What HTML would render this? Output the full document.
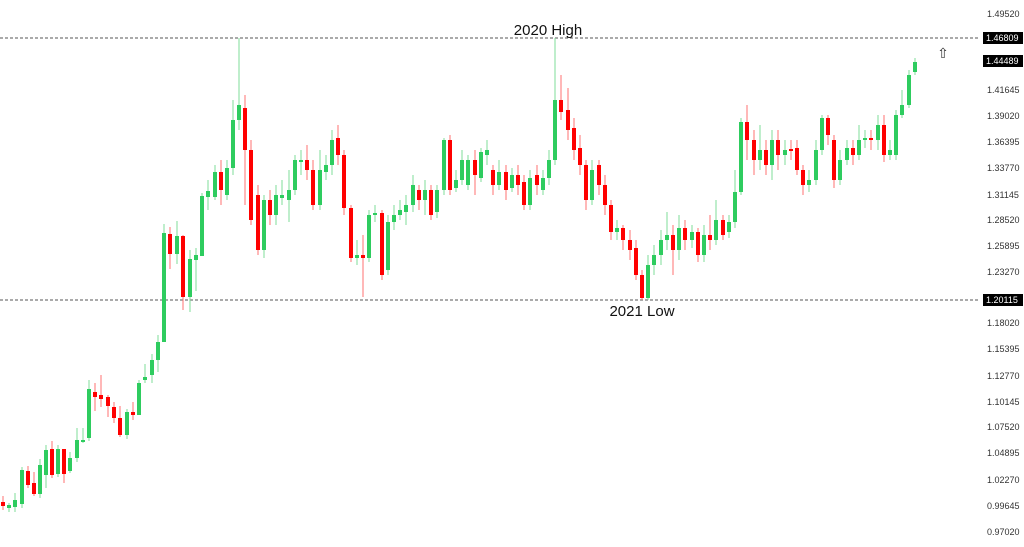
<!DOCTYPE html>
<html><head><meta charset="utf-8"><style>
html,body{margin:0;padding:0;background:#fff;width:1024px;height:547px;overflow:hidden}
svg{display:block}
.t{font-family:"Liberation Sans",sans-serif;font-size:9px;fill:#333}
.w{font-family:"Liberation Sans",sans-serif;font-size:9px;fill:#fff}
</style></head><body>
<svg width="1024" height="547" xmlns="http://www.w3.org/2000/svg">
<line x1="0" y1="38" x2="978" y2="38" stroke="#555" stroke-dasharray="3,2" stroke-width="1"/>
<line x1="0" y1="300" x2="978" y2="300" stroke="#555" stroke-dasharray="3,2" stroke-width="1"/>

<path fill="none" stroke="#7fdc9a" stroke-width="1" d="M9 503V512M15 493V512M22 467V508M40 459V498M46 445V488M58 445V477M70 452V473M77 428V462M83 428V443M89 380V441M127 409V439M139 380V415M145 364V383M152 354V383M158 335V372M164 224V342M177 221V264M190 250V312M196 248V291M202 193V256M208 180V210M215 165V200M227 160V200M233 100V175M239 38V130M264 195V258M276 185V225M282 180V205M289 170V222M295 155V195M301 150V175M320 150V210M326 155V180M332 130V175M357 240V265M369 210V262M375 205V222M388 215V275M394 205V230M400 200V220M406 195V225M413 175V212M425 180V215M437 185V218M444 138V195M456 170V192M462 150V185M468 155V190M481 148V182M487 140V165M499 160V190M512 168V192M530 170V210M543 170V195M549 150V185M555 38V165M592 160V205M617 220V240M648 255V300M654 245V275M661 230V265M667 212V250M679 215V260M692 225V248M704 225V262M716 200V245M729 215V238M735 170V228M741 118V195M760 125V170M772 130V180M785 140V165M809 170V192M816 140V185M822 115V155M840 150V185M847 140V165M859 125V160M865 130V148M878 115V150M890 140V160M896 110V160M902 90V118M909 70V108M915 58V75"/>
<path fill="none" stroke="#2ecc5f" stroke-width="4" d="M9 505V508M15 500V507M22 470V504M40 465V494M46 450V475M58 449V474M70 458V471M77 440V458M83 440V442M89 389V438M127 412V435M139 383V415M145 377V380M152 360V375M158 342V360M164 233V342M177 236V254M190 259V297M196 255V260M202 196V256M208 191V197M215 172V197M227 168V195M233 120V168M239 105V120M264 200V250M276 195V215M282 195V198M289 190V200M295 160V190M301 160V162M320 170V205M326 165V172M332 140V165M357 255V258M369 215V258M375 213V215M388 222V270M394 215V222M400 210V215M406 205V212M413 185V205M425 190V200M437 190V212M444 140V190M456 180V188M462 160V180M468 160V185M481 152V178M487 150V155M499 172V185M512 175V188M530 178V205M543 178V190M549 160V178M555 100V160M592 170V200M617 228V232M648 265V298M654 255V265M661 240V255M667 235V240M679 228V250M692 232V240M704 235V255M716 220V240M729 222V232M735 192V222M741 122V192M760 150V160M772 140V165M785 150V155M809 180V185M816 150V180M822 118V150M840 160V180M847 148V160M859 140V155M865 138V140M878 125V140M890 150V155M896 115V155M902 105V115M909 75V105M915 62V72"/>

<path fill="none" stroke="#ff7070" stroke-width="1" d="M3 496V510M28 466V488M34 472V496M52 441V478M64 449V483M95 383V411M101 375V407M108 395V417M114 402V423M120 406V437M133 402V420M170 227V269M183 235V310M221 160V205M245 95V205M251 140V225M258 185V255M270 190V225M307 145V180M313 160V210M338 125V165M344 150V215M351 205V262M363 235V297M382 210V280M419 185V210M431 185V220M450 135V195M475 150V195M493 165V195M506 165V200M518 165V195M524 175V210M537 165V195M561 75V120M568 88V140M574 118V160M580 135V175M586 160V210M599 160V195M605 175V215M611 200V240M623 225V250M630 230V260M636 240V280M642 270V300M673 225V275M685 220V250M698 228V262M710 215V250M723 215V240M747 105V160M754 130V175M766 140V175M778 130V170M791 140V160M797 140V175M803 165V195M828 115V145M834 135V188M853 140V165M871 130V150M884 115V162"/>
<path fill="none" stroke="#ff0000" stroke-width="4" d="M3 502V506M28 471V485M34 483V494M52 449V475M64 449V474M95 392V397M101 395V399M108 397V406M114 407V418M120 418V435M133 412V415M170 234V254M183 236V297M221 172V190M245 108V150M251 150V220M258 195V250M270 200V215M307 160V170M313 170V205M338 138V155M344 155V208M351 208V258M363 255V258M382 213V275M419 190V200M431 190V215M450 140V190M475 160V175M493 170V185M506 172V190M518 175V185M524 182V205M537 175V185M561 100V112M568 110V130M574 128V150M580 148V165M586 165V200M599 165V185M605 185V205M611 205V232M623 228V240M630 240V250M636 248V275M642 275V298M673 235V250M685 228V240M698 232V255M710 235V240M723 220V235M747 122V140M754 140V160M766 150V165M778 140V155M791 149V151M797 148V170M803 170V185M828 118V135M834 140V180M853 148V155M871 138V140M884 125V155"/>

<text x="548" y="35" text-anchor="middle" font-family="Liberation Sans,sans-serif" font-size="15" fill="#111">2020 High</text>
<text x="642" y="316" text-anchor="middle" font-family="Liberation Sans,sans-serif" font-size="15" fill="#111">2021 Low</text>
<text x="943" y="58" text-anchor="middle" font-family="DejaVu Sans,sans-serif" font-size="14" fill="#333">⇧</text>

<text class="t" x="987" y="17">1.49520</text>
<text class="t" x="987" y="93">1.41645</text>
<text class="t" x="987" y="119">1.39020</text>
<text class="t" x="987" y="145">1.36395</text>
<text class="t" x="987" y="171">1.33770</text>
<text class="t" x="987" y="198">1.31145</text>
<text class="t" x="987" y="223">1.28520</text>
<text class="t" x="987" y="249">1.25895</text>
<text class="t" x="987" y="275">1.23270</text>
<text class="t" x="987" y="326">1.18020</text>
<text class="t" x="987" y="352">1.15395</text>
<text class="t" x="987" y="379">1.12770</text>
<text class="t" x="987" y="405">1.10145</text>
<text class="t" x="987" y="430">1.07520</text>
<text class="t" x="987" y="456">1.04895</text>
<text class="t" x="987" y="483">1.02270</text>
<text class="t" x="987" y="509">0.99645</text>
<text class="t" x="987" y="535">0.97020</text>
<rect x="983" y="32" width="40" height="12" fill="#000"/><text class="w" x="986" y="41">1.46809</text>
<rect x="983" y="55" width="40" height="12" fill="#000"/><text class="w" x="986" y="64">1.44489</text>
<rect x="983" y="294" width="40" height="12" fill="#000"/><text class="w" x="986" y="303">1.20115</text>
</svg>
</body></html>
